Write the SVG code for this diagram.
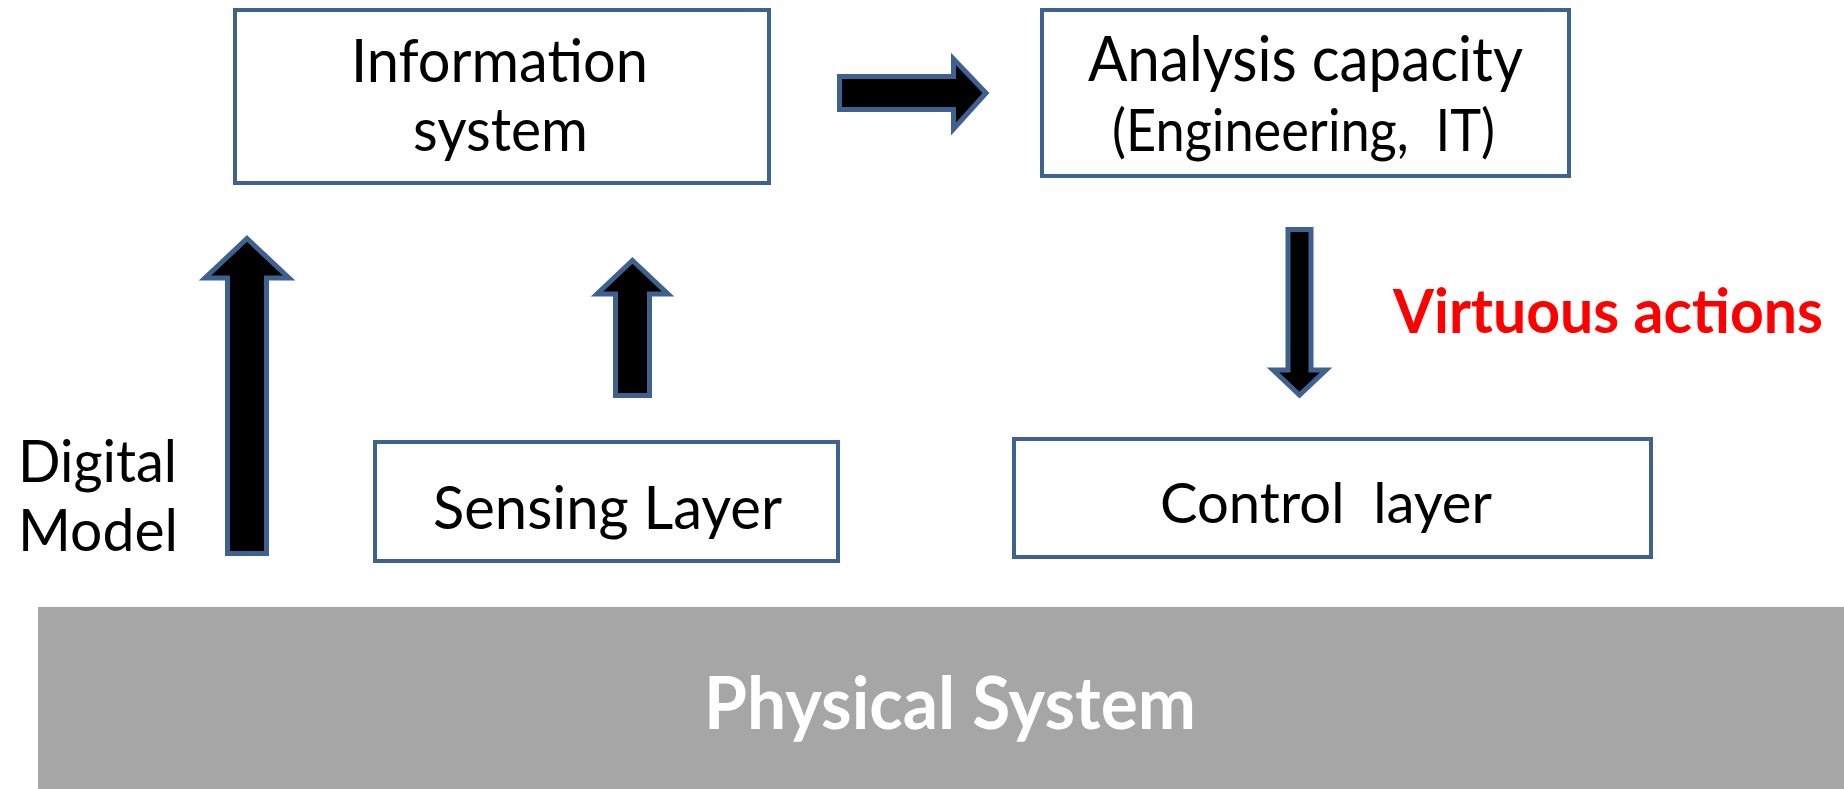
<svg xmlns="http://www.w3.org/2000/svg" width="1844" height="789" viewBox="0 0 1844 789">
  <style>
    .box { fill: #FFFFFF; stroke: #3F6190; stroke-width: 4; }
    .arrow { fill: #000000; stroke: #3F6190; stroke-width: 5; stroke-linejoin: miter; }
    .label { font-family: Lato, "Liberation Sans", sans-serif; fill: #000000; white-space: pre; }
    .red { font-family: Lato, "Liberation Sans", sans-serif; font-weight: bold; fill: #FF0000; }
    .base { font-family: Lato, "Liberation Sans", sans-serif; font-weight: bold; fill: #FFFFFF; }
  </style>
  <rect width="1844" height="789" fill="#FFFFFF"/>

  <!-- Physical system base bar -->
  <g id="physical-system">
    <rect x="38" y="607" width="1806" height="182" fill="#A6A6A6"/>
    <text class="base" x="704" y="729" font-size="73" textLength="492" lengthAdjust="spacingAndGlyphs">Physical System</text>
  </g>

  <g id="information-system">
    <rect class="box" x="235" y="10" width="534" height="173"/>
    <text class="label" x="351" y="82" font-size="60" textLength="297" lengthAdjust="spacingAndGlyphs">Information</text>
    <text class="label" x="413" y="151" font-size="60" textLength="175" lengthAdjust="spacingAndGlyphs">system</text>
  </g>

  <g id="analysis-capacity">
    <rect class="box" x="1042" y="10" width="527" height="166"/>
    <text class="label" x="1088" y="81" font-size="62" textLength="435" lengthAdjust="spacingAndGlyphs">Analysis capacity</text>
    <text class="label" x="1112" y="151" font-size="58" textLength="383" lengthAdjust="spacingAndGlyphs">(Engineering,  IT)</text>
  </g>

  <g id="sensing-layer">
    <rect class="box" x="375" y="442" width="463" height="119"/>
    <text class="label" x="433" y="529" font-size="60" textLength="349" lengthAdjust="spacingAndGlyphs">Sensing Layer</text>
  </g>

  <g id="control-layer">
    <rect class="box" x="1014" y="439" width="637" height="118"/>
    <text class="label" x="1160" y="523" font-size="57" textLength="332" lengthAdjust="spacingAndGlyphs">Control  layer</text>
  </g>

  <g id="digital-model">
    <text class="label" x="18" y="482" font-size="58" textLength="159" lengthAdjust="spacingAndGlyphs">Digital</text>
    <text class="label" x="18" y="551" font-size="58" textLength="160" lengthAdjust="spacingAndGlyphs">Model</text>
  </g>

  <g id="virtuous-actions">
    <text class="red" x="1393" y="333" font-size="62" textLength="430" lengthAdjust="spacingAndGlyphs">Virtuous actions</text>
  </g>

  <!-- Block arrows between layers -->
  <g id="connectors">
    <path class="arrow" d="M247,238.5 L289,278 L266.5,278 L266.5,553.5 L227.5,553.5 L227.5,278 L205,278 Z"/>
    <path class="arrow" d="M632.5,260.5 L668,294 L649.5,294 L649.5,395.5 L615.5,395.5 L615.5,294 L597,294 Z"/>
    <path class="arrow" d="M839.5,76.5 L953.5,76.5 L953.5,59 L986,93 L953.5,129 L953.5,109.5 L839.5,109.5 Z"/>
    <path class="arrow" d="M1288,229.5 L1311,229.5 L1311,370 L1326,370 L1299.5,395 L1273,370 L1288,370 Z"/>
  </g>
</svg>
